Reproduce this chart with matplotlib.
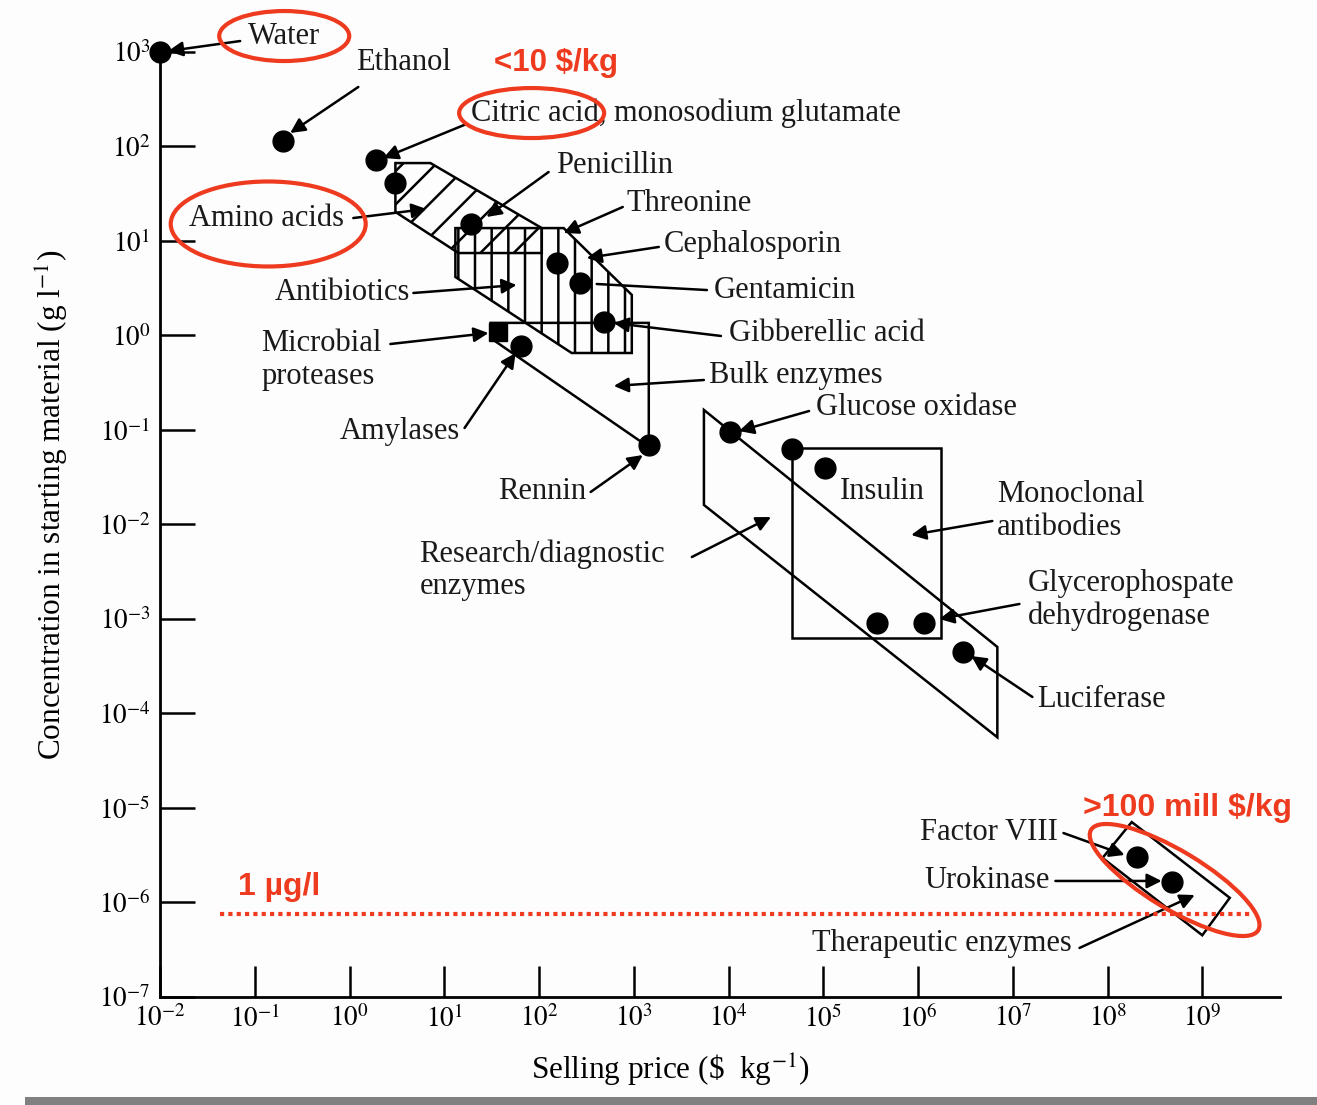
import matplotlib
matplotlib.use('Agg')
import matplotlib.pyplot as plt
from matplotlib.patches import Polygon, Ellipse, Rectangle

# product points: selling price ($/kg) vs concentration in starting material (g/l)
price = [0.01, 0.2, 1.9, 3.0, 19, 153, 270, 490, 64, 1440,
         1.035e4, 4.7e4, 1.05e5, 3.7e5, 1.16e6, 3.0e6, 2.07e8, 4.75e8]
conc = [1000, 115, 72, 41, 15, 5.8, 3.6, 1.39, 0.77, 0.069,
        0.095, 0.063, 0.040, 9.1e-4, 9.1e-4, 4.5e-4, 3.0e-6, 1.65e-6]
protease_price = [37]
protease_conc = [1.09]

# product regions
amino_price = [3.05, 7.14, 107, 107, 14.1, 3.05]
amino_conc = [66.8, 66.8, 13.7, 7.46, 7.46, 20.3]
antib_price = [13.1, 182, 953, 953, 221, 13.1]
antib_conc = [13.7, 13.7, 2.69, 0.653, 0.653, 4.16]
bulk_price = [30.8, 1440, 1440, 30.8]
bulk_conc = [1.36, 1.36, 0.066, 0.94]
research_price = [5500, 6.87e6, 6.87e6, 5500]
research_conc = [0.163, 5.06e-4, 5.6e-5, 0.0161]
mab_price = [4.68e4, 1.76e6, 1.76e6, 4.68e4]
mab_conc = [0.0646, 0.0646, 6.3e-4, 6.3e-4]
thera_price = [1.8e8, 1.95e9, 1.0e9, 8.85e7]
thera_conc = [7.1e-6, 1.12e-6, 4.5e-7, 2.96e-6]

xticks = [1e-2, 1e-1, 1e0, 1e1, 1e2, 1e3, 1e4, 1e5, 1e6, 1e7, 1e8, 1e9]
xtick_labels = [r'$10^{-2}$', r'$10^{-1}$', r'$10^{0}$', r'$10^{1}$', r'$10^{2}$',
                r'$10^{3}$', r'$10^{4}$', r'$10^{5}$', r'$10^{6}$', r'$10^{7}$',
                r'$10^{8}$', r'$10^{9}$']
yticks = [1e-7, 1e-6, 1e-5, 1e-4, 1e-3, 1e-2, 1e-1, 1e0, 1e1, 1e2, 1e3]
ytick_labels = [r'$10^{-7}$', r'$10^{-6}$', r'$10^{-5}$', r'$10^{-4}$', r'$10^{-3}$',
                r'$10^{-2}$', r'$10^{-1}$', r'$10^{0}$', r'$10^{1}$', r'$10^{2}$',
                r'$10^{3}$']

ug_line = 7.6e-7

plt.rcParams['font.family'] = ['Liberation Serif', 'DejaVu Serif']
plt.rcParams['mathtext.fontset'] = 'stix'
plt.rcParams['hatch.linewidth'] = 1.8

W, H = 1317, 1105
fig = plt.figure(figsize=(W / 100, H / 100), dpi=100, facecolor='#fdfdfd')
ax = fig.add_axes([160 / W, 1 - 997 / H, 1120 / W, 945 / H])
ax.set_xscale('log')
ax.set_yscale('log')
ax.set_xlim(1e-2, 10 ** 9.82)
ax.set_ylim(1e-7, 1e3)
ax.patch.set_alpha(0)
for s in ['top', 'right']:
    ax.spines[s].set_visible(False)
for s in ['left', 'bottom']:
    ax.spines[s].set_linewidth(2)

ax.set_xticks(xticks)
ax.set_xticklabels(xtick_labels)
ax.set_yticks(yticks)
ax.set_yticklabels(ytick_labels)
ax.minorticks_off()
ax.tick_params(axis='x', direction='in', length=22, width=1.8, pad=6, labelsize=19.5)
ax.tick_params(axis='y', direction='in', length=25, width=1.8, pad=7, labelsize=19.5)

# regions
def region(px, cy, hatch=None):
    ax.add_patch(Polygon(list(zip(px, cy)), closed=True, facecolor='none',
                         edgecolor='black', lw=1.8, hatch=hatch))

region(amino_price, amino_conc, '/')
region(antib_price, antib_conc, '|')
region(bulk_price, bulk_conc)
region(research_price, research_conc)
region(mab_price, mab_conc)
region(thera_price, thera_conc)

ax.plot(price, conc, 'o', color='black', ms=15, clip_on=False, zorder=5)
ax.plot(protease_price, protease_conc, 's', color='black', ms=13, clip_on=False, zorder=5)

# labels: text, text pos (log10), ha, arrow tail, arrow head, head style
notes = [
    ("Water", (-0.689, 3.169), 'center', (-1.154, 3.116), (-1.915, 3.01), '-|>'),
    ("Ethanol", (0.569, 2.884), 'center', (0.093, 2.630), (-0.626, 2.143), '-|>'),
    ("Citric acid, monosodium glutamate", (1.277, 2.354), 'left', (1.235, 2.238), (0.357, 1.878), '-|>'),
    ("Penicillin", (2.175, 1.804), 'left', (2.101, 1.730), (1.446, 1.254), '-|>'),
    ("Threonine", (2.926, 1.392), 'left', (2.884, 1.360), (2.26, 1.085), '-|>'),
    ("Cephalosporin", (3.317, 0.968), 'left', (3.264, 0.937), (2.503, 0.820), '-|>'),
    ("Gentamicin", (3.846, 0.481), 'left', (3.772, 0.481), (2.609, 0.545), '-'),
    ("Gibberellic acid", (4.004, 0.016), 'left', (3.920, -0.005), (2.789, 0.132), '-|>'),
    ("Amino acids", (-0.879, 1.243), 'center', (0.040, 1.243), (0.812, 1.339), '-|>'),
    ("Antibiotics", (0.643, 0.460), 'right', (0.674, 0.450), (1.763, 0.534), '-|>'),
    ("Microbial\nproteases", (-0.932, -0.259), 'left', (0.431, -0.090), (1.467, 0.026), '-|>'),
    ("Amylases", (1.171, -1.021), 'right', (1.214, -0.979), (1.753, -0.185), '-|>'),
    ("Rennin", (2.503, -1.646), 'right', (2.545, -1.656), (3.095, -1.265), '-|>'),
    ("Bulk enzymes", (3.793, -0.418), 'left', (3.740, -0.471), (2.789, -0.534), '-|>'),
    ("Glucose oxidase", (4.924, -0.767), 'left', (4.850, -0.799), (4.110, -1.011), '-|>'),
    ("Research/diagnostic\nenzymes", (0.738, -2.481), 'left', (3.613, -2.344), (4.448, -1.921), '-|>'),
    ("Monoclonal\nantibodies", (6.837, -1.857), 'left', (6.784, -1.963), (5.928, -2.111), '-|>'),
    ("Glycerophospate\ndehydrogenase", (7.154, -2.799), 'left', (7.070, -2.841), (6.224, -3.0), '-|>'),
    ("Luciferase", (7.260, -3.847), 'left', (7.207, -3.825), (6.562, -3.392), '-|>'),
    ("Factor VIII", (7.471, -5.254), 'right', (7.535, -5.265), (8.180, -5.497), '-|>'),
    ("Urokinase", (7.387, -5.762), 'right', (7.450, -5.772), (8.571, -5.772), '-|>'),
    ("Therapeutic enzymes", (7.619, -6.439), 'right', (7.704, -6.481), (8.920, -5.921), '-|>'),
]
for txt, tp, ha, tail, head, style in notes:
    ax.text(10 ** tp[0], 10 ** tp[1], txt, ha=ha, va='center', fontsize=22,
            linespacing=1.15, color='#1a1a1a')
    ax.annotate('', xy=(10 ** head[0], 10 ** head[1]),
                xytext=(10 ** tail[0], 10 ** tail[1]), annotation_clip=False,
                arrowprops=dict(arrowstyle=style, color='black', lw=1.8,
                                mutation_scale=22, shrinkA=0, shrinkB=0))
ax.text(10 ** 5.622, 10 ** -1.646, "Insulin", ha='center', va='center', fontsize=22,
        color='#1a1a1a')

# axis titles
fig.text(670 / W, 1 - 1070 / H, r"Selling price (\$  kg$^{-1}$)", ha='center', va='center',
         fontsize=22.5)
fig.text(52 / W, 1 - 505 / H, r"Concentration in starting material (g l$^{-1}$)",
         ha='center', va='center', rotation=90, fontsize=22.5)

# red highlights
red = '#ee3a1e'
ax.plot([10 ** -1.366, 10 ** 9.501], [ug_line, ug_line], color=red, lw=3,
        linestyle=(0, (1, 1)), clip_on=False, zorder=6)
ax.text(10 ** 1.520, 10 ** 2.884, "<10 $/kg", color=red, fontsize=22.5, fontweight='bold',
        family='Liberation Sans', ha='left', va='center')
ax.text(10 ** -1.175, 10 ** -5.836, "1 µg/l", color=red, fontsize=23, fontweight='bold',
        family='Liberation Sans', ha='left', va='center')
ax.text(10 ** 7.736, 10 ** -5.0, ">100 mill $/kg", color=red, fontsize=23, fontweight='bold',
        family='Liberation Sans', ha='left', va='center')

ov = fig.add_axes([0, 0, 1, 1], zorder=10)
ov.set_xlim(0, W)
ov.set_ylim(0, H)
ov.axis('off')
rings = [((-0.689, 3.169), 130, 50, 0), ((1.922, 2.354), 145, 50, 0),
         ((-0.858, 1.18), 195, 85, 0), ((8.708, -5.762), 195, 58, -31)]
for c, w, h, a in rings:
    cx, cy = ax.transData.transform((10 ** c[0], 10 ** c[1]))
    ov.add_patch(Ellipse((cx, cy), w, h, angle=a, facecolor='none', edgecolor=red, lw=3))

# grey bar at the bottom
ov.add_patch(Rectangle((25, 0), W - 25, 8, color='#808080', lw=0))

fig.savefig('out.png', dpi=100, facecolor=fig.get_facecolor())
